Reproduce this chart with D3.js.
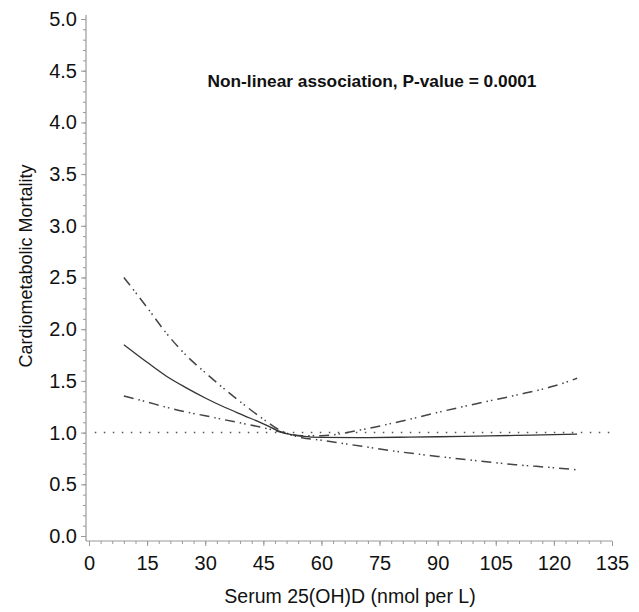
<!DOCTYPE html>
<html>
<head>
<meta charset="utf-8">
<script src="https://cdn.jsdelivr.net/npm/d3@7"></script>
<style>
  body { margin: 0; background: #fff; }
  svg { display: block; font-family: "Liberation Sans", Arial, sans-serif; }
  .axis text { font-size: 20px; fill: #111; }
  .axis line { stroke: #999; }
</style>
</head>
<body>
<svg id="chart"></svg>
<script>
const serum = [9, 15, 20, 25, 30, 35, 40, 45, 50, 55, 60, 70, 80, 90, 100, 110, 120, 126];
const estimate = [1.85, 1.68, 1.545, 1.435, 1.335, 1.245, 1.165, 1.085, 1.0, 0.965, 0.953, 0.952, 0.955, 0.96, 0.966, 0.973, 0.98, 0.985];
const upper = [2.50, 2.21, 1.96, 1.75, 1.58, 1.42, 1.27, 1.13, 1.01, 0.97, 0.97, 1.025, 1.105, 1.195, 1.28, 1.36, 1.45, 1.525];
const lower = [1.355, 1.296, 1.245, 1.20, 1.163, 1.124, 1.087, 1.047, 1.0, 0.95, 0.926, 0.87, 0.815, 0.77, 0.728, 0.69, 0.66, 0.64];
const xTicks = [0, 15, 30, 45, 60, 75, 90, 105, 120, 135];
const yTicks = [0, 0.5, 1, 1.5, 2, 2.5, 3, 3.5, 4, 4.5, 5];
const refValue = 1;
const refRange = [1.5, 135];

const width = 639, height = 612;
const svg = d3.select('#chart').attr('width', width).attr('height', height);

const x = d3.scaleLinear().domain([0, 135]).range([89, 612]);
const y = d3.scaleLinear().domain([0, 5]).range([536, 19]);
const axisX = 86, axisY = 541;

// minor ticks
const xMinor = d3.range(0, 135.1, 3);
const yMinor = d3.range(0, 5.01, 0.1);

svg.append('g')
  .attr('class', 'axis')
  .attr('transform', `translate(0, ${axisY})`)
  .call(d3.axisBottom(x).tickValues(xMinor).tickSize(3).tickFormat(''))
  .select('.domain').remove();

svg.append('g')
  .attr('class', 'axis')
  .attr('transform', `translate(0, ${axisY})`)
  .call(d3.axisBottom(x).tickValues(xTicks).tickSize(5).tickPadding(10))
  .select('.domain').remove();

svg.append('g')
  .attr('class', 'axis')
  .attr('transform', `translate(${axisX}, 0)`)
  .call(d3.axisLeft(y).tickValues(yMinor).tickSize(3).tickFormat(''))
  .select('.domain').remove();

svg.append('g')
  .attr('class', 'axis')
  .attr('transform', `translate(${axisX}, 0)`)
  .call(d3.axisLeft(y).tickValues(yTicks).tickSize(5).tickPadding(4).tickFormat(d3.format('.1f')))
  .select('.domain').remove();

// axis lines
svg.append('line')
  .attr('x1', axisX).attr('x2', axisX)
  .attr('y1', 15).attr('y2', axisY)
  .attr('stroke', '#999').attr('stroke-width', 1.2);
svg.append('line')
  .attr('x1', axisX).attr('x2', x(135))
  .attr('y1', axisY).attr('y2', axisY)
  .attr('stroke', '#999').attr('stroke-width', 1.2);

// reference line
svg.append('line')
  .attr('x1', x(refRange[0])).attr('x2', x(refRange[1]))
  .attr('y1', y(refValue)).attr('y2', y(refValue))
  .attr('stroke', '#555')
  .attr('stroke-width', 1.5)
  .attr('stroke-dasharray', '1.5,7.5');

const line = d3.line()
  .x(d => x(d[0]))
  .y(d => y(d[1]))
  .curve(d3.curveMonotoneX);

// confidence limits
[upper, lower].forEach(vals => {
  svg.append('path')
    .datum(serum.map((s, i) => [s, vals[i]]))
    .attr('d', line)
    .attr('fill', 'none')
    .attr('stroke', '#444')
    .attr('stroke-width', 1.5)
    .attr('stroke-dasharray', '10,5,1.5,3,1.5,5');
});

// estimate
svg.append('path')
  .datum(serum.map((s, i) => [s, estimate[i]]))
  .attr('d', line)
  .attr('fill', 'none')
  .attr('stroke', '#333')
  .attr('stroke-width', 1.3);

// annotation
svg.append('text')
  .attr('x', 372)
  .attr('y', 87)
  .attr('text-anchor', 'middle')
  .attr('font-size', 17.3)
  .attr('font-weight', 'bold')
  .attr('fill', '#111')
  .text('Non-linear association, P-value = 0.0001');

// axis titles
svg.append('text')
  .attr('x', 350)
  .attr('y', 603)
  .attr('text-anchor', 'middle')
  .attr('font-size', 19.5)
  .attr('fill', '#111')
  .text('Serum 25(OH)D (nmol per L)');

svg.append('text')
  .attr('transform', 'translate(32, 266) rotate(-90)')
  .attr('text-anchor', 'middle')
  .attr('font-size', 18)
  .attr('fill', '#111')
  .text('Cardiometabolic Mortality');
</script>
</body>
</html>
